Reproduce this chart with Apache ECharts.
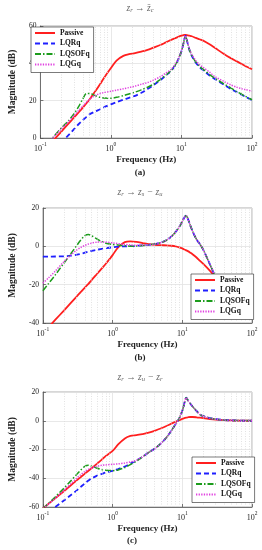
<!DOCTYPE html>
<html><head><meta charset="utf-8">
<script src="https://cdn.jsdelivr.net/npm/echarts@6/dist/echarts.min.js"></script>
<style>html,body{margin:0;padding:0;background:#fff}#c{width:262px;height:550px}</style>
</head><body><div id="c"></div>
<script>
// ---- data (frequency in Hz, magnitudes in dB) ----
const freq = [0.1, 0.12, 0.15, 0.2, 0.25, 0.3, 0.35, 0.4, 0.45, 0.5, 0.6, 0.7, 0.8, 1, 1.2, 1.5, 1.8, 2.2, 2.7, 3.3, 4, 5, 6, 7, 8, 9, 10, 10.5, 11, 11.4, 12, 13, 14, 16, 18, 20, 25, 30, 40, 50, 60, 70, 80, 100];

// (a) z_r -> z_c acceleration
const aPassive = [-9, -5.7, -1.6, 3.6, 7.7, 11, 13.8, 16.3, 18.6, 20.8, 25, 28.8, 32.3, 37.5, 41.5, 44, 44.9, 45.5, 46.3, 47.2, 48.4, 49.8, 51.2, 52.4, 53.4, 54.2, 54.8, 55, 55.2, 55.2, 55.1, 54.8, 54.5, 53.6, 52.9, 52.3, 50.2, 48.2, 45, 42.8, 41.2, 39.8, 38.6, 36.8];
const aLQRq = [-16, -12.5, -8, -2.2, 1.5, 4.8, 7.5, 9.6, 11.3, 12.7, 14.2, 15.4, 16.5, 18, 19.2, 20.5, 21.5, 22.6, 24.2, 26.2, 28.3, 31, 33.5, 35.7, 38.5, 42, 46.5, 49.5, 53, 54.8, 52, 47, 44, 40.3, 38, 36.5, 33.5, 31.5, 28.5, 26.3, 24.7, 23.3, 22.2, 20.3];
const aLQSOFq = [-8, -4.5, 0.2, 5.5, 9.2, 13, 17, 21, 23.8, 23.8, 22.7, 21.8, 21.4, 21.3, 21.8, 22.7, 23.6, 24.6, 25.8, 27.2, 28.8, 31.3, 33.7, 35.8, 38.6, 42, 46.5, 49.5, 53, 54.8, 52, 47.2, 44.3, 40.7, 38.4, 37, 34, 32, 29, 26.8, 25, 23.6, 22.4, 20.5];
const aLQGq = [-9, -5.5, 0, 5, 8.7, 12, 14.8, 17.2, 19.2, 20.8, 22.8, 23.8, 24.4, 25, 25.6, 26.4, 27, 27.8, 28.8, 29.7, 31, 32.8, 34.8, 36.5, 39, 42.3, 46.7, 49.6, 53, 54.8, 52.2, 47.6, 44.8, 41.4, 39.3, 38, 35.3, 32.8, 30.3, 28.5, 27.3, 26.5, 26, 25];

// (b) z_r -> z_s - z_u
const bPassive = [-45.5, -42.3, -38.4, -33.5, -29.6, -26.5, -23.8, -21.5, -19.6, -17.6, -14.3, -11.5, -9.1, -4.6, -0.5, 2.2, 2.6, 2.3, 1.7, 1.1, 0.8, 0.6, 0.5, 0.3, 0, -0.5, -1.1, -1.5, -1.8, -2.1, -2.5, -3.3, -4.1, -5.8, -7.6, -9.2, -12.8, -15.9, -20.8, -24.6, -27.7, -30.3, -32.5, -36.5];
const bLQRq = [-5.4, -5.4, -5.3, -5.2, -4.9, -4.4, -3.9, -3.3, -2.8, -2.4, -1.8, -1.3, -1, -0.5, -0.2, 0, 0.1, 0.3, 0.5, 0.8, 1.2, 2, 3.3, 5.2, 7.5, 10, 13, 14.5, 15.7, 16, 14.5, 11, 8, 3.6, 1, -1.8, -9.5, -15.6, -20.9, -24.7, -27.8, -30.4, -32.6, -36.5];
const bLQSOFq = [-23.2, -19.5, -15, -8.8, -4, 0, 3.3, 5.6, 6.2, 5.5, 3.8, 2.4, 1.6, 1, 0.7, 0.3, 0.1, 0.2, 0.4, 0.8, 1.2, 2, 3.3, 5.2, 7.5, 10, 13, 14.5, 15.7, 16, 14.5, 11, 8, 3.6, 1, -1.8, -9.5, -15.6, -20.9, -24.7, -27.8, -30.4, -32.6, -36.5];
const bLQGq = [-19.2, -16.5, -13, -8, -4.6, -2.2, -0.6, 0.5, 1.2, 1.7, 2.2, 2.3, 2.2, 1.8, 1.4, 1, 0.7, 0.5, 0.6, 0.8, 1.2, 2, 3.3, 5.2, 7.5, 10, 13, 14.5, 15.7, 16, 14.5, 11, 8, 3.6, 1, -1.8, -9.5, -15.6, -20.9, -24.7, -27.8, -30.4, -32.6, -36.5];

// (c) z_r -> z_u - z_r
const cPassive = [-61, -57.8, -54, -49, -45, -41.8, -39.2, -36.8, -34.8, -33, -29.8, -27, -24.5, -21, -16.5, -12.3, -10.6, -10, -9.3, -8.3, -7, -5.2, -3.5, -2, -0.7, 0.4, 1.3, 1.7, 2, 2.2, 2.4, 2.6, 2.6, 2.4, 2.1, 1.8, 1.2, 0.8, 0.4, 0.2, 0.1, 0.1, 0, 0];
const cLQRq = [-67, -64, -60, -55.5, -51.8, -48.8, -46, -43.5, -41.6, -40.1, -38.2, -37, -36, -34.8, -33.6, -31.8, -29.8, -27.6, -25, -22, -19.5, -15.5, -11.3, -6.8, -2.5, 1.5, 7, 10.5, 14.5, 16, 14.3, 12, 10, 6.8, 4.3, 3.2, 1.8, 1.1, 0.5, 0.3, 0.2, 0.1, 0.1, 0];
const cLQSOFq = [-61, -57.5, -53, -47, -42, -37.8, -34.2, -31.7, -31, -31.6, -33, -33.9, -34.4, -34.7, -34.2, -32.5, -30.5, -28, -25, -22, -19.5, -15.5, -11.3, -6.8, -2.5, 1.5, 7, 10.5, 14.5, 16, 14.3, 12, 10, 6.8, 4.3, 3.2, 1.8, 1.1, 0.5, 0.3, 0.2, 0.1, 0.1, 0];
const cLQGq = [-61, -58, -54, -48.5, -44, -40.3, -37.5, -35.3, -33.8, -32.8, -31.6, -31, -30.7, -30.3, -30, -29.4, -28.6, -27.5, -25, -22, -19.5, -15.5, -11.3, -6.8, -2.5, 1.5, 7, 10.5, 14.5, 16, 14.3, 12, 10, 6.8, 4.3, 3.2, 1.8, 1.1, 0.5, 0.3, 0.2, 0.1, 0.1, 0];

const seriesNames = ['Passive', 'LQRq', 'LQSOFq', 'LQGq'];
const panelLabels = ['(a)', '(b)', '(c)'];
const panelTitles = [
  '{i|z}{s|r}{i| → }{i|z\u0308}{s|c}',
  '{i|z}{s|r}{i| → }{i|z}{s|s}{i| − }{i|z}{s|u}',
  '{i|z}{s|r}{i| → }{i|z}{s|u}{i| − }{i|z}{s|r}'
];
const yRanges = [[0, 60], [-40, 20], [-60, 20]];
const yInterval = 20;
const xRange = [0.1, 100];
const minorGridFreq = [0.2, 0.3, 0.4, 0.5, 0.6, 0.7, 0.8, 0.9, 2, 3, 4, 5, 6, 7, 8, 9, 20, 30, 40, 50, 60, 70, 80, 90];

const panelData = [
  [aPassive, aLQRq, aLQSOFq, aLQGq],
  [bPassive, bLQRq, bLQSOFq, bLQGq],
  [cPassive, cLQRq, cLQSOFq, cLQGq]
];

// ---- styling / layout ----
const SERIF = '"Liberation Serif", "DejaVu Serif", serif';
const colors = ['#ff1f1f', '#1f1fff', '#1c9c1c', '#e040e0'];
const lineTypes = ['solid', [5, 3], [6, 2, 1.5, 2], [1.3, 1.3]];
const widths = [1.8, 1.8, 1.5, 1.5];
const grids = [
  { left: 29, top: 26, width: 223, height: 112 },
  { left: 29, top: 208, width: 223, height: 115 },
  { left: 29, top: 392, width: 223, height: 115 }
];
const legendPos = [{ left: 31, top: 27 }, { left: 191, top: 274 }, { left: 192, top: 457 }];
const titleY = [8, 192, 377];
const labelPos = [[140, 173], [140, 358], [132, 541]];

const chart = echarts.init(document.getElementById('c'), null, { renderer: 'canvas' });

const xAxes = [], yAxes = [], series = [], legends = [], graphics = [];
grids.forEach((g, i) => {
  xAxes.push({
    type: 'log', logBase: 10, gridIndex: i, min: xRange[0], max: xRange[1],
    axisLine: { show: true, onZero: false, lineStyle: { color: '#555', width: 0.8 } },
    axisTick: { show: true, inside: true, length: 3, lineStyle: { color: '#555', width: 0.8 } },
    splitLine: { show: true, lineStyle: { color: '#e2e2e2', width: 0.8 } },
    axisLabel: {
      margin: 4, color: '#222',
      formatter: v => '{b|10}{e|' + Math.round(Math.log10(v)) + '}',
      rich: {
        b: { fontFamily: SERIF, fontSize: 8, color: '#222', verticalAlign: 'bottom', lineHeight: 11 },
        e: { fontFamily: SERIF, fontSize: 5.5, color: '#222', verticalAlign: 'top', lineHeight: 11 }
      }
    },
    name: 'Frequency (Hz)', nameLocation: 'middle', nameGap: 17,
    nameTextStyle: { fontFamily: SERIF, fontWeight: 'bold', fontSize: 9, color: '#222' }
  });
  yAxes.push({
    type: 'value', gridIndex: i, min: yRanges[i][0], max: yRanges[i][1], interval: yInterval,
    axisLine: { show: true, onZero: false, lineStyle: { color: '#555', width: 0.8 } },
    axisTick: { show: true, inside: true, length: 3, lineStyle: { color: '#555', width: 0.8 } },
    splitLine: { show: true, lineStyle: { color: '#e2e2e2', width: 0.8 } },
    axisLabel: { margin: 4, fontFamily: SERIF, fontSize: 7.5, color: '#222' },
    name: 'Magnitude (dB)', nameLocation: 'middle', nameGap: 18,
    nameTextStyle: { fontFamily: SERIF, fontWeight: 'bold', fontSize: 9.5, color: '#222' }
  });
  // minor vertical grid lines (log decades)
  series.push({
    type: 'line', name: 'grid' + i, xAxisIndex: i, yAxisIndex: i, data: [], silent: true, z: 1,
    markLine: {
      silent: true, symbol: ['none', 'none'], animation: false,
      label: { show: false },
      lineStyle: { color: '#dadada', type: [1, 1.5], width: 0.8 },
      emphasis: { disabled: true },
      data: minorGridFreq.map(v => ({ xAxis: v }))
    }
  });
  panelData[i].forEach((arr, k) => {
    series.push({
      type: 'line', name: seriesNames[k], xAxisIndex: i, yAxisIndex: i,
      data: freq.map((f, j) => [f, arr[j]]),
      symbol: 'none', showSymbol: false, smooth: 0.3, clip: true, z: 2 + k,
      lineStyle: { color: colors[k], width: widths[k], type: lineTypes[k] },
      itemStyle: { color: colors[k] },
      emphasis: { disabled: true }
    });
  });
  legends.push(Object.assign({
    orient: 'vertical', data: seriesNames, itemWidth: 20, itemHeight: 8, itemGap: 2.5,
    padding: [2, 4, 4, 3], borderColor: '#222', borderWidth: 0.6, backgroundColor: '#fff',
    selectedMode: false, z: 10,
    itemStyle: { opacity: 0, borderWidth: 0 },
    textStyle: { fontFamily: SERIF, fontWeight: 'bold', fontSize: 7.5, color: '#111' }
  }, legendPos[i]));
  graphics.push({
    type: 'text', x: 140, y: titleY[i], z: 10,
    style: {
      text: panelTitles[i], align: 'center', verticalAlign: 'middle', fill: '#666',
      rich: {
        i: { fontFamily: SERIF, fontStyle: 'italic', fontSize: 9.5, fill: '#666', verticalAlign: 'middle', lineHeight: 11 },
        s: { fontFamily: SERIF, fontStyle: 'italic', fontSize: 6.5, fill: '#666', verticalAlign: 'bottom', lineHeight: 11, padding: [3, 0, 0, 0] }
      }
    }
  });
  graphics.push({
    type: 'text', x: labelPos[i][0], y: labelPos[i][1], z: 10,
    style: { text: panelLabels[i], align: 'center', verticalAlign: 'middle', fill: '#222', font: 'bold 9px ' + SERIF }
  });
});

chart.setOption({
  animation: false,
  backgroundColor: '#fff',
  grid: grids.map(g => Object.assign({ show: true, borderColor: '#999', borderWidth: 0.8, backgroundColor: 'transparent' }, g)),
  xAxis: xAxes,
  yAxis: yAxes,
  legend: legends,
  series: series,
  graphic: graphics
});
</script>
</body></html>
